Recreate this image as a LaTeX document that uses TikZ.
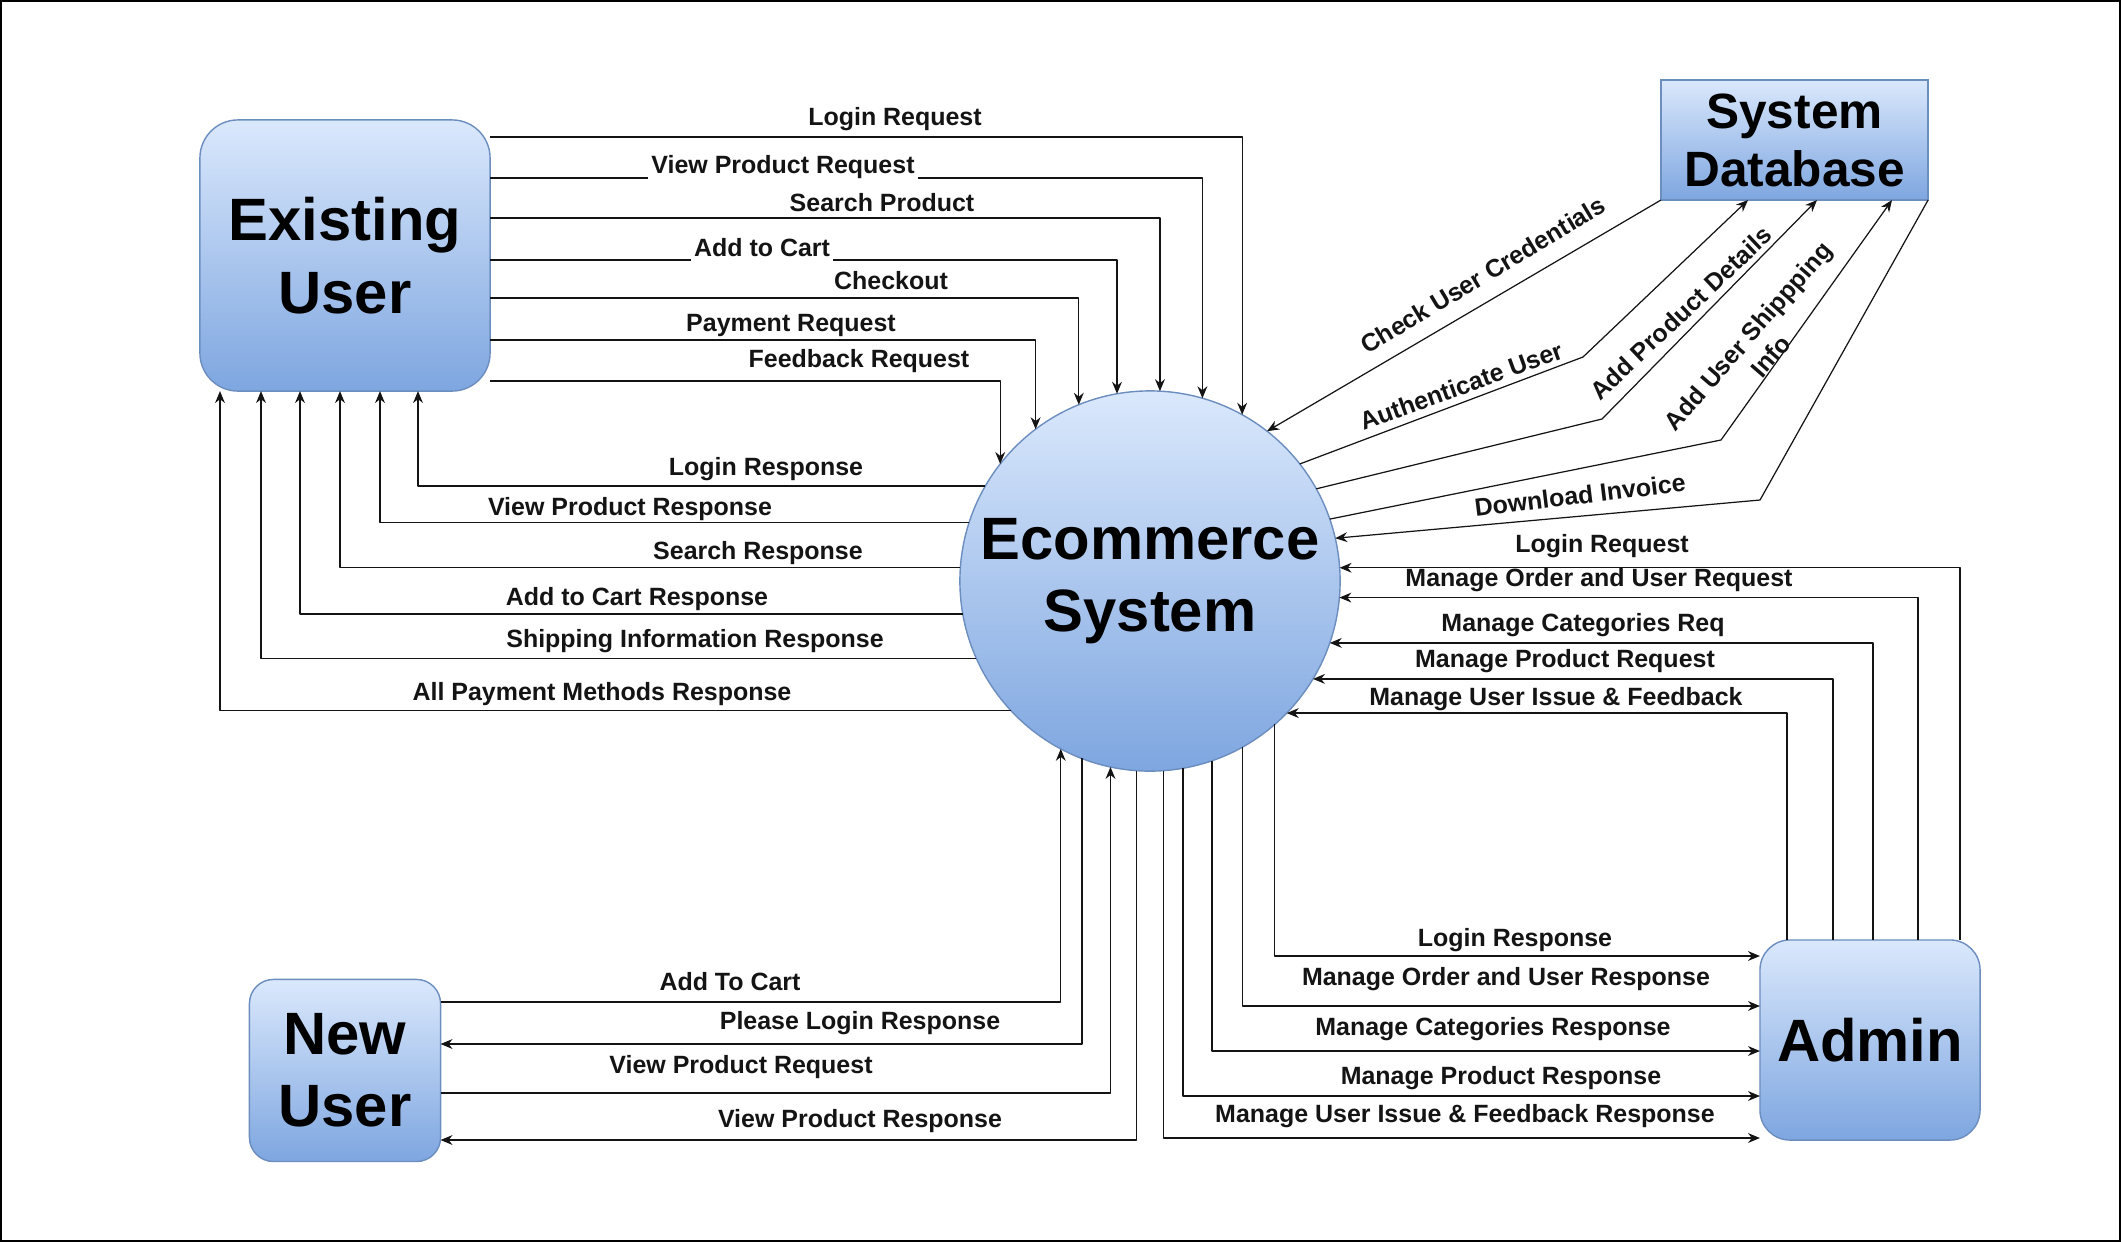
\documentclass[tikz,border=0pt]{standalone}
\usepackage{fontspec}
\setmainfont{Liberation Sans}
\usepackage{tikz}
\usetikzlibrary{arrows.meta, positioning}
\definecolor{BlueTop}{HTML}{DAE8FC}
\definecolor{BlueBottom}{HTML}{7EA6E0}
\definecolor{BlueEdge}{HTML}{6C8EBF}
\definecolor{LineBlack}{HTML}{141414}
\tikzset{%
  entity/.style={%
    rectangle,%
    draw=BlueEdge,%
    top color=BlueTop,%
    bottom color=BlueBottom,%
    outer sep=0pt,%
    align=center,%
    font={\bfseries\fontsize{17}{20.6}\selectfont},%
  },
  store/.style={%
    entity,%
    font={\bfseries\fontsize{14.1}{16.5}\selectfont},%
  },
  process/.style={%
    circle,%
    draw=BlueEdge,%
    top color=BlueTop,%
    bottom color=BlueBottom,%
    inner sep=0pt,%
    outer sep=0pt,%
    minimum size=3.8cm,%
    align=center,%
    font={\bfseries\fontsize{17}{20.4}\selectfont},%
  },
  flow/.style={%
    color=LineBlack,%
    line width=0.35pt,%
    line join=round,%
  },
  arrow/.style={-{Stealth[length=3.4pt, width=2.8pt]}},
  flow_label/.style={%
    font={\bfseries\fontsize{7.1}{8.6}\selectfont},%
    inner sep=1pt,%
    align=center,%
  },
  on_line/.style={%
    flow_label,%
    fill=white,%
  },
  frame/.style={%
    draw=black,%
    line width=0.6pt,%
  },
}

\begin{document}
\begin{tikzpicture}[x=0.01cm, y=-0.01cm]
    \useasboundingbox (0,0) rectangle (2121,1242);
    \draw [frame] (1,1) rectangle (2120,1241);

    % entities and the process
    \node [entity, rounded corners=0.38cm, minimum width=2.9cm, minimum height=2.71cm] (EU) at (345,255.5) {Existing\\User};
    \node [entity, rounded corners=0.24cm, minimum width=1.91cm, minimum height=1.82cm, below = 5.88cm of EU] (NU) {New\\User};
    \node [process] (Eco) at (1150,581) {Ecommerce\\System};
    \node [store, minimum width=2.67cm, minimum height=1.2cm] (DB) at (1794.5,140) {System\\Database};
    \node [entity, rounded corners=0.3cm, minimum width=2.2cm, minimum height=2cm] (Admin) at (1870,1040) {Admin};

    \coordinate (auth_bend) at (1583,357);
    \coordinate (prod_bend) at (1602,419);
    \coordinate (ship_bend) at (1721,440);
    \coordinate (inv_bend) at (1760,500);

    % existing user -> system
    \draw [arrow, flow] (EU.east |- 0,137) -| (Eco.61.72)
      node [flow_label] at (895,119) {Login Request};
    \draw [arrow, flow] (EU.east |- 0,178) -| (Eco.74.74)
      node [on_line] at (783,167) {View Product Request};
    \draw [arrow, flow] (EU.east |- 0,218) -| (Eco.87.59)
      node [flow_label] at (882,203) {Search Product};
    \draw [arrow, flow] (EU.east |- 0,260) -| (Eco.100.0)
      node [on_line] at (762,248) {Add to Cart};
    \draw [arrow, flow] (EU.east |- 0,298) -| (Eco.112.6)
      node [flow_label] at (891,281) {Checkout};
    \draw [arrow, flow] (EU.east |- 0,340) -| (Eco.127.25)
      node [flow_label] at (791,325) {Payment Request};
    \draw [arrow, flow] (EU.east |- 0,381) -| (Eco.142.14)
      node [flow_label] at (859,361) {Feedback Request};

    % system -> existing user
    \draw [arrow, flow] (Eco.150.7) -| (EU.south -| 418,0)
      node [flow_label] at (766,469) {Login Response};
    \draw [arrow, flow] (Eco.162.4) -| (EU.south -| 380,0)
      node [flow_label] at (630,509) {View Product Response};
    \draw [arrow, flow] (Eco.176.5) -| (EU.south -| 340,0)
      node [flow_label] at (758,553) {Search Response};
    \draw [arrow, flow] (Eco.190.5) -| (EU.south -| 300,0)
      node [flow_label] at (637,599) {Add to Cart Response};
    \draw [arrow, flow] (Eco.204.6) -| (EU.south -| 261,0)
      node [flow_label] at (695,641) {Shipping Information Response};
    \draw [arrow, flow] (Eco.223.6) -| (EU.south -| 220,0)
      node [flow_label] at (602,694) {All Payment Methods Response};

    % database
    \draw [arrow, flow] (DB.south west) -- (Eco.52.4)
      node [flow_label, rotate=31] at (1483,275) {Check User Credentials};
    \draw [arrow, flow] (Eco.38.7) -- (auth_bend) -- (DB.south -| 1748,0)
      node [flow_label, rotate=20] at (1461,386) {Authenticate User};
    \draw [arrow, flow] (Eco.29.2) -- (prod_bend) -- (DB.south -| 1817,0)
      node [flow_label, rotate=43.5] at (1681,313) {Add Product Details};
    \draw [arrow, flow] (Eco.19.9) -- (ship_bend) -- (DB.south -| 1892,0)
      node [flow_label, rotate=49] at (1759,346) {Add User Shippping\\Info};
    \draw [arrow, flow] (DB.south east) -- (inv_bend) -- (Eco.13)
      node [flow_label, rotate=7] at (1580,495) {Download Invoice};

    % admin -> system
    \draw [arrow, flow] (Admin.north -| 1960,0) |- (Eco.4.83)
      node [flow_label] at (1602,546) {Login Request};
    \draw [arrow, flow] (Admin.north -| 1918,0) |- (Eco.-5.44)
      node [flow_label] at (1599,580) {Manage Order and User Request};
    \draw [arrow, flow] (Admin.north -| 1873,0) |- (Eco.-19.05)
      node [flow_label] at (1583,625) {Manage Categories Req};
    \draw [arrow, flow] (Admin.north -| 1833,0) |- (Eco.-31.4)
      node [flow_label] at (1565,661) {Manage Product Request};
    \draw [arrow, flow] (Admin.north -| 1787,0) |- (Eco.-44.43)
      node [flow_label] at (1556,699) {Manage User Issue \& Feedback};

    % system -> admin
    \draw [arrow, flow] (Eco.-49.7) |- (Admin.west |- 0,956)
      node [flow_label] at (1515,940) {Login Response};
    \draw [arrow, flow] (Eco.-61.04) |- (Admin.west |- 0,1006)
      node [flow_label] at (1506,979) {Manage Order and User Response};
    \draw [arrow, flow] (Eco.-71.27) |- (Admin.west |- 0,1051)
      node [flow_label] at (1493,1029) {Manage Categories Response};
    \draw [arrow, flow] (Eco.-80.92) |- (Admin.west |- 0,1096)
      node [flow_label] at (1501,1078) {Manage Product Response};
    \draw [arrow, flow] (Eco.-86.68) |- (Admin.west |- 0,1138)
      node [flow_label] at (1465,1116) {Manage User Issue \& Feedback Response};

    % new user
    \draw [arrow, flow] (NU.east |- 0,1002) -| (Eco.242.75)
      node [flow_label] at (730,982) {Add To Cart};
    \draw [arrow, flow] (Eco.249.03) |- (NU.east |- 0,1044)
      node [flow_label] at (860,1023) {Please Login Response};
    \draw [arrow, flow] (NU.east |- 0,1093) -| (Eco.258.15)
      node [flow_label] at (741,1067) {View Product Request};
    \draw [arrow, flow] (Eco.266.98) |- (NU.east |- 0,1140)
      node [flow_label] at (860,1121) {View Product Response};
\end{tikzpicture}
\end{document}
